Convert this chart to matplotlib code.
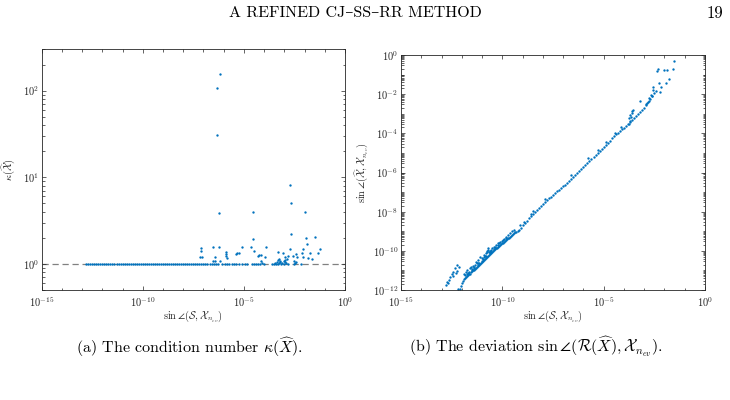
import numpy as np
from matplotlib import pyplot as plt, ticker as plticker

plt.rcParams['mathtext.fontset'] = 'cm'
plt.rcParams['axes.unicode_minus'] = False

# (a) kappa(X^) vs sin angle(S, X_nev) -- x given as log10 values
a_band_logx = [-12.8, -12.7, -12.6, -12.5, -12.4, -12.3, -12.2, -12.1, -12.0, -11.9,
               -11.8, -11.7, -11.6, -11.5, -11.4, -11.3, -11.2, -11.1, -11.0, -10.9,
               -10.8, -10.7, -10.6, -10.5, -10.4, -10.3, -10.2, -10.1, -10.0, -9.9,
               -9.8, -9.7, -9.6, -9.5, -9.4, -9.3, -9.2, -9.1, -9.0, -8.9,
               -8.8, -8.7, -8.6, -8.5, -8.4, -8.3, -8.2, -8.1, -8.0, -7.9,
               -7.8, -7.7, -7.6, -7.5, -7.4, -7.3, -7.2, -7.1, -7.0, -6.9,
               -6.8, -6.7, -6.6, -6.5]
a_band_kappa = [1.0, 1.01, 1.0, 1.0, 1.01, 1.0, 1.0, 1.01, 1.0, 1.0,
                1.01, 1.0, 1.0, 1.01, 1.0, 1.0, 1.01, 1.0, 1.0, 1.01,
                1.0, 1.0, 1.01, 1.0, 1.0, 1.01, 1.0, 1.0, 1.01, 1.0,
                1.0, 1.01, 1.0, 1.0, 1.01, 1.0, 1.0, 1.01, 1.0, 1.0,
                1.01, 1.0, 1.0, 1.01, 1.0, 1.0, 1.01, 1.0, 1.0, 1.01,
                1.0, 1.0, 1.01, 1.0, 1.0, 1.01, 1.0, 1.0, 1.01, 1.0,
                1.0, 1.01, 1.0, 1.0]
a_near_logx = [-6.4, -6.3, -6.1, -5.95, -5.85, -5.75, -5.6, -5.5, -5.4, -5.25,
               -5.1, -4.95, -4.85, -4.6, -4.5, -4.4, -4.3, -4.2, -4.1, -4.0,
               -3.6, -3.5, -3.45, -3.4, -3.35, -3.3, -3.25, -3.2, -3.15, -3.1,
               -3.0, -2.95, -2.9, -2.8, -2.5, -2.45, -2.2]
a_near_kappa = [1.0, 1.0, 1.01, 1.0, 1.0, 1.0, 1.0, 1.01, 1.0, 1.0,
                1.0, 1.0, 1.0, 1.0, 1.01, 1.0, 1.0, 1.0, 1.02, 1.0,
                1.0, 1.0, 1.03, 1.0, 1.04, 1.0, 1.02, 1.05, 1.0, 1.03,
                1.0, 1.04, 1.02, 1.0, 1.0, 1.03, 1.0]
a_out_logx = [-6.17, -6.32, -6.35, -6.23, -4.57, -2.74, -2.69, -1.98, -2.69, -4.57,
              -1.93, -1.50, -1.88, -7.12, -7.12, -6.51, -6.22, -5.08, -4.66, -3.92,
              -4.50, -3.33, -2.74, -2.08, -1.24, -2.14, -1.73, -1.32, -5.89, -5.89,
              -5.87, -5.85, -5.40, -5.32, -5.25, -4.25, -4.15, -4.28, -3.97, -3.05,
              -2.95, -2.85, -2.80, -2.58, -2.40, -2.37, -2.10, -1.85, -1.65, -7.15,
              -7.05, -6.55, -6.45, -6.42, -3.30, -3.25, -3.22, -3.00, -2.97, -2.50,
              -2.40, -6.20, -4.15]
a_out_kappa = [155, 107, 31, 3.9, 4.0, 8.1, 5.1, 4.0, 2.24, 1.93,
               1.97, 2.06, 1.71, 1.51, 1.40, 1.58, 1.58, 1.58, 1.58, 1.58,
               1.40, 1.38, 1.47, 1.49, 1.47, 1.33, 1.35, 1.32, 1.36, 1.31,
               1.22, 1.17, 1.31, 1.32, 1.35, 1.26, 1.28, 1.24, 1.20, 1.32,
               1.20, 1.15, 1.22, 1.22, 1.30, 1.20, 1.20, 1.16, 1.13, 1.21,
               1.20, 1.09, 1.20, 1.07, 1.12, 1.15, 1.08, 1.08, 1.12, 1.07,
               1.05, 1.08, 1.07]

# (b) sin angle(X^, X_nev) vs sin angle(S, X_nev) -- both as log10 values
b_main_logx = [-12.10, -12.05, -12.00, -11.95, -11.90, -11.85, -11.80, -11.75, -11.70, -11.65,
               -11.60, -11.55, -11.50, -11.45, -11.40, -11.35, -11.30, -11.25, -11.20, -11.15,
               -11.10, -11.05, -11.00, -10.95, -10.90, -10.85, -10.80, -10.75, -10.70, -10.65,
               -10.60, -10.55, -10.50, -10.45, -10.40, -10.35, -10.30, -10.25, -10.20, -10.15,
               -10.10, -10.05, -10.00, -9.95, -9.90, -9.85, -9.80, -9.75, -9.70, -9.65,
               -9.60, -9.55, -9.50, -9.45, -9.40, -9.35, -9.30, -9.25, -9.20, -9.10,
               -9.00, -8.90, -8.80, -8.70, -8.60, -8.50, -8.40, -8.30, -8.20, -8.10,
               -8.00, -7.90, -7.80, -7.70, -7.60, -7.50, -7.40, -7.30, -7.20, -7.10,
               -7.00, -6.90, -6.80, -6.70, -6.60, -6.50, -6.40, -6.30, -6.20, -6.10,
               -6.00, -5.90, -5.80, -5.70, -5.60, -5.50, -5.40, -5.30, -5.20, -5.10,
               -5.00, -4.90, -4.80, -4.70, -4.60, -4.50, -4.40, -4.30, -4.20, -4.10,
               -4.00, -3.90, -3.80, -3.70, -3.60, -3.50, -3.40, -3.30, -3.20, -3.10,
               -3.00, -2.90, -2.80, -2.70, -2.60, -2.50]
b_main_logy = [-11.95, -11.80, -11.62, -11.52, -11.45, -11.40, -11.33, -11.30, -11.25, -11.20,
               -11.16, -11.10, -11.05, -11.00, -10.96, -10.91, -10.86, -10.81, -10.76, -10.71,
               -10.66, -10.61, -10.56, -10.51, -10.46, -10.41, -10.36, -10.31, -10.26, -10.21,
               -10.16, -10.11, -10.06, -10.01, -9.96, -9.92, -9.87, -9.83, -9.79, -9.75,
               -9.70, -9.66, -9.62, -9.58, -9.54, -9.50, -9.45, -9.41, -9.37, -9.33,
               -9.28, -9.24, -9.20, -9.16, -9.11, -9.06, -9.02, -8.97, -8.92, -8.82,
               -8.70, -8.58, -8.46, -8.34, -8.22, -8.11, -8.00, -7.90, -7.80, -7.70,
               -7.60, -7.50, -7.41, -7.32, -7.23, -7.15, -7.06, -6.97, -6.88, -6.80,
               -6.71, -6.62, -6.52, -6.43, -6.33, -6.22, -6.12, -6.02, -5.93, -5.84,
               -5.74, -5.63, -5.52, -5.41, -5.30, -5.20, -5.10, -5.00, -4.89, -4.79,
               -4.69, -4.58, -4.47, -4.37, -4.26, -4.15, -4.05, -3.96, -3.88, -3.80,
               -3.72, -3.62, -3.52, -3.42, -3.32, -3.22, -3.12, -3.02, -2.92, -2.81,
               -2.69, -2.56, -2.42, -2.26, -2.10, -1.93]
b_scatter_logx = [-1.53, -1.59, -1.89, -2.03, -2.32, -2.37, -1.76, -1.93, -2.17, -2.29,
                  -2.57, -2.58, -2.42, -2.22, -2.67, -2.62, -2.77, -3.21, -3.54, -3.62,
                  -3.70, -3.74, -3.70, -3.77, -3.60, -3.66, -2.90, -2.85, -2.75,
                  -10.69, -10.74, -10.81, -10.72, -10.77, -11.10, -11.19, -11.27, -11.40, -11.52,
                  -11.68, -11.00, -10.90, -11.30, -11.45, -11.60, -11.80, -11.90, -10.50, -10.40,
                  -10.30, -10.20, -10.60, -11.20, -10.95, -11.35, -11.55, -11.75, -11.85, -10.85,
                  -10.65, -10.55, -10.10, -9.95, -9.80, -9.60, -9.40, -9.15, -8.95, -8.60,
                  -12.22, -12.12, -12.34, -12.25, -12.42, -12.50, -12.58, -12.63, -12.75, -12.80,
                  -12.70, -12.45, -12.30, -12.19,
                  -6.60, -5.75, -4.90, -4.45, -7.90, -8.50, -5.30, -4.15,
                  -11.62, -11.42, -11.22, -11.02, -10.82, -10.62, -10.42, -10.22, -10.02, -9.82,
                  -11.72, -11.48, -11.15, -10.88, -10.58, -10.35, -10.15, -9.90, -9.70, -9.50]
b_scatter_logy = [-0.31, -0.72, -0.75, -0.75, -0.72, -0.82, -1.24, -1.41, -1.62, -1.45,
                  -1.62, -1.79, -1.84, -1.87, -2.06, -2.11, -2.21, -2.35, -2.81, -2.95,
                  -3.08, -3.22, -3.37, -3.52, -2.88, -3.15, -2.50, -2.45, -2.35,
                  -9.87, -10.00, -10.13, -9.95, -10.06, -10.30, -10.47, -10.64, -10.81, -10.98,
                  -11.15, -10.35, -10.20, -10.55, -10.75, -10.90, -11.10, -11.20, -9.85, -9.80,
                  -9.70, -9.60, -10.00, -10.60, -10.40, -10.70, -10.85, -11.00, -11.25, -10.25,
                  -10.05, -9.95, -9.55, -9.45, -9.30, -9.10, -8.95, -8.70, -8.55, -8.10,
                  -10.72, -10.81, -10.89, -11.01, -11.07, -11.19, -11.32, -11.49, -11.58, -11.75,
                  -11.65, -11.30, -11.15, -11.95,
                  -6.15, -5.25, -4.45, -4.00, -7.35, -7.95, -4.85, -3.70,
                  -11.08, -10.88, -10.70, -10.50, -10.28, -10.10, -9.90, -9.70, -9.50, -9.32,
                  -11.20, -10.95, -10.60, -10.32, -10.05, -9.82, -9.62, -9.38, -9.18, -8.98]

x_ticks = [1e-15, 1e-10, 1e-5, 1e0]
x_labels = [r'$\mathsf{10^{-15}}$', r'$\mathsf{10^{-10}}$', r'$\mathsf{10^{-5}}$', r'$\mathsf{10^{0}}$']
a_y_ticks = [1e0, 1e1, 1e2]
a_y_labels = [r'$\mathsf{10^{0}}$', r'$\mathsf{10^{1}}$', r'$\mathsf{10^{2}}$']
b_y_ticks = [1e-12, 1e-10, 1e-8, 1e-6, 1e-4, 1e-2, 1e0]
b_y_labels = [r'$\mathsf{10^{-12}}$', r'$\mathsf{10^{-10}}$', r'$\mathsf{10^{-8}}$', r'$\mathsf{10^{-6}}$',
              r'$\mathsf{10^{-4}}$', r'$\mathsf{10^{-2}}$', r'$\mathsf{10^{0}}$']

blue = '#0072BD'
axcol = '0.15'
serif = ['cmr10', 'DejaVu Serif']


def style_axes(ax):
    ax.set_xscale('log')
    ax.set_yscale('log')
    ax.set_xlim(1e-15, 1e0)
    ax.set_xticks(x_ticks, x_labels)
    ax.xaxis.set_minor_locator(plticker.LogLocator(base=10, subs=(1.0,), numticks=30))
    ax.xaxis.set_minor_formatter(plticker.NullFormatter())
    ax.tick_params(which='both', direction='in', top=True, right=True,
                   width=0.5, colors=axcol, labelsize=7.5, pad=2)
    ax.tick_params(axis='x', which='major', pad=3.5)
    ax.tick_params(which='major', length=3)
    ax.tick_params(which='minor', length=1.8)
    for s in ax.spines.values():
        s.set_linewidth(0.6)
        s.set_color(axcol)
    ax.set_xlabel(r'$\sin\angle(\mathcal{S},\mathcal{X}_{n_{ev}})$', fontsize=7.5, color=axcol, labelpad=0)


fig = plt.figure(figsize=(7.3, 4.0), dpi=100)

ax1 = fig.add_axes([0.0571, 0.275, 0.4155, 0.6018])
style_axes(ax1)
ax1.set_ylim(0.5, 300)
ax1.axhline(1.0, color='0.5', linestyle='--', linewidth=0.9, dashes=(5, 3), zorder=1)
ax1.plot(10 ** np.array(a_band_logx), a_band_kappa, 'o', ms=1.7, mew=0, color=blue, zorder=2)
ax1.plot(10 ** np.array(a_near_logx), a_near_kappa, 'o', ms=1.7, mew=0, color=blue, zorder=2)
ax1.plot(10 ** np.array(a_out_logx), a_out_kappa, 'o', ms=1.7, mew=0, color=blue, zorder=2)
ax1.set_yticks(a_y_ticks, a_y_labels)
ax1.yaxis.set_minor_locator(plticker.LogLocator(base=10, subs=np.arange(2, 10), numticks=30))
ax1.yaxis.set_minor_formatter(plticker.NullFormatter())
ax1.set_ylabel(r'$\kappa(\widehat{\mathcal{X}})$', fontsize=7.5, color=axcol, labelpad=3)

ax2 = fig.add_axes([0.5493, 0.275, 0.4164, 0.5875])
style_axes(ax2)
ax2.set_ylim(1e-12, 1e0)
ax2.plot(10 ** np.array(b_main_logx), 10 ** np.array(b_main_logy), 'o', ms=1.7, mew=0, color=blue)
ax2.plot(10 ** np.array(b_scatter_logx), 10 ** np.array(b_scatter_logy), 'o', ms=1.7, mew=0, color=blue)
ax2.set_yticks(b_y_ticks, b_y_labels)
ax2.yaxis.set_minor_locator(plticker.LogLocator(base=10, subs=np.arange(1, 10), numticks=30))
ax2.yaxis.set_minor_formatter(plticker.NullFormatter())
ax2.set_ylabel(r'$\sin\angle(\widehat{\mathcal{X}},\mathcal{X}_{n_{ev}})$', fontsize=7.5, color=axcol, labelpad=1)

# page header and sub-captions
fig.text(355 / 730, 1 - 13 / 400, 'A REFINED CJ\u2013SS\u2013RR METHOD', family=serif,
         ha='center', va='center', fontsize=11.5)
fig.text(715 / 730, 1 - 13 / 400, '19', family=serif, ha='center', va='center', fontsize=12)
fig.text(190 / 730, 1 - 347 / 400, r'(a) The condition number $\kappa(\widehat{X})$.',
         family=serif, ha='center', va='center', fontsize=11.5)
fig.text(536 / 730, 1 - 347 / 400,
         r'(b) The deviation $\sin\angle(\mathcal{R}(\widehat{X}),\mathcal{X}_{n_{ev}})$.',
         family=serif, ha='center', va='center', fontsize=11.5)

fig.savefig('out.png', dpi=100)
